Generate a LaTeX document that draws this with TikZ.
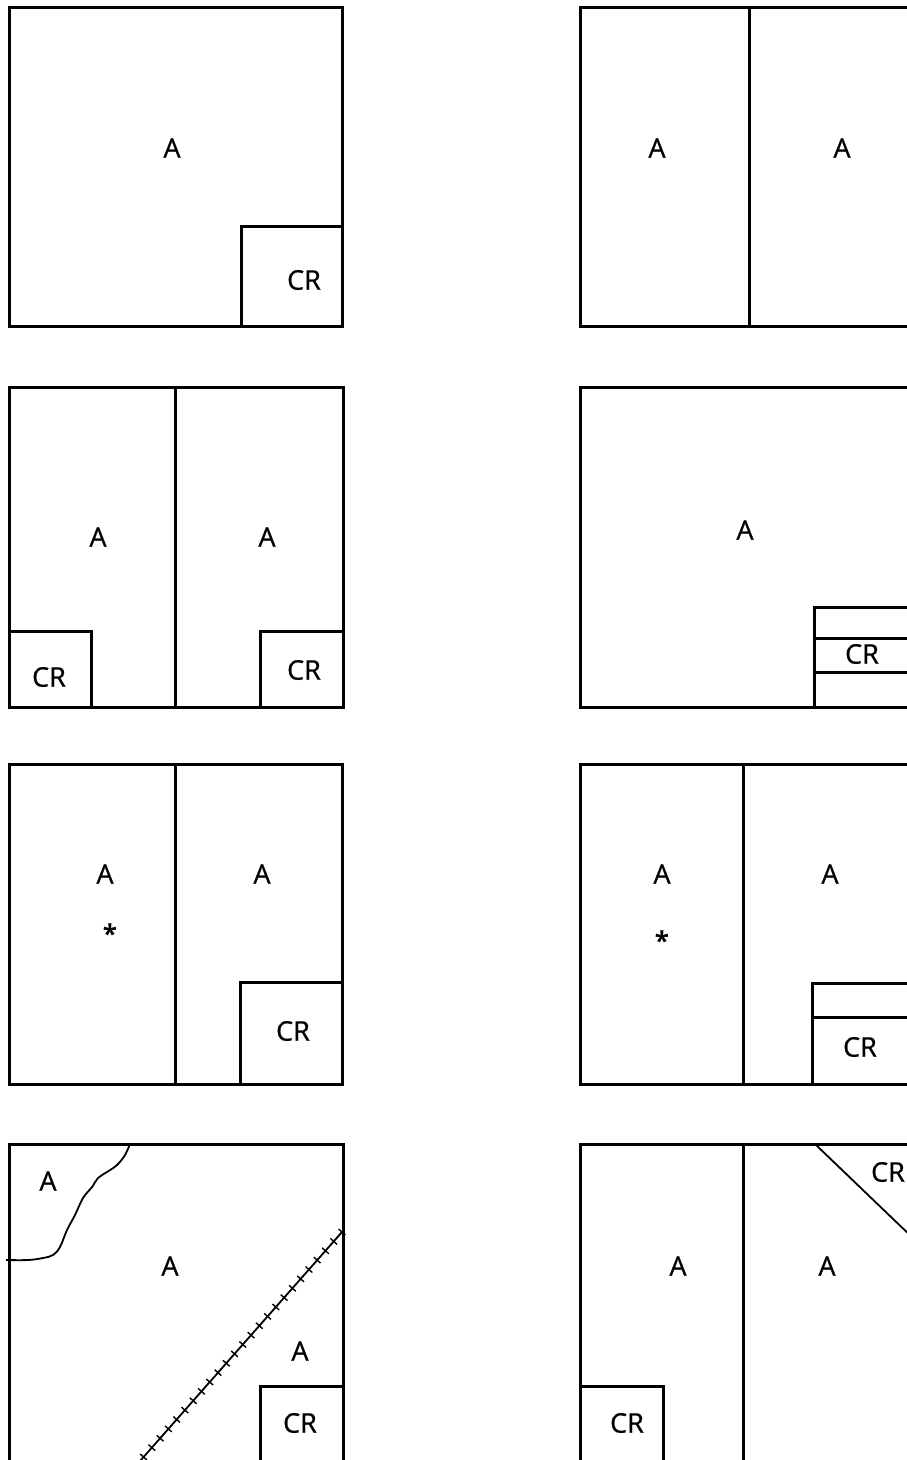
\documentclass[tikz,border=0pt]{standalone}
\usepackage{fontspec}
\setmainfont{Open Sans}
\newfontfamily\lblfont{Open Sans}[FakeBold=0.8]
\usetikzlibrary{decorations.markings}
\begin{document}
\begin{tikzpicture}[x=1pt,y=-1pt,
  wall/.style={line width=3pt, line join=miter},
  thinline/.style={line width=1.8pt},
  lbl/.style={font=\lblfont\fontsize{27}{30}\selectfont, inner sep=0pt},
  starlbl/.style={font=\bfseries\fontsize{26}{30}\selectfont, inner sep=0pt},
  ticked/.style={thinline, postaction={decorate}, decoration={markings,
     mark=between positions 0 and 1 step 12.5pt with {\draw[line width=1.4pt] (0,-4.5pt) -- (0,4.5pt);}}}]
\clip (0,0) rectangle (907,1460);
\fill[white] (0,0) rectangle (907,1460);
% ---------- Row 1 left
\draw[wall] (9,7) rectangle (342,326);
\draw[wall] (241,326) |- (342,226);
\node[lbl] (a1) at (172,148) {A};
\node[lbl] (cr1) at (304,280) {CR};
% ---------- Row 1 right
\draw[wall] (580,7) rectangle (940,326);
\draw[wall] (749,7) -- (749,326);
\node[lbl] (a2) at (657,148) {A};
\node[lbl] (a3) at (842,148) {A};
% ---------- Row 2 left
\draw[wall] (9,387) rectangle (343,707);
\draw[wall] (175,387) -- (175,707);
\draw[wall] (9,631) -| (91,707);
\draw[wall] (260,707) |- (343,631);
\node[lbl] (a4) at (98,537) {A};
\node[lbl] (a5) at (267,537) {A};
\node[lbl] (cr2) at (49,677) {CR};
\node[lbl] (cr3) at (304,670) {CR};
% ---------- Row 2 right
\draw[wall] (580,387) rectangle (940,707);
\draw[wall] (814,707) |- (940,607);
\draw[wall] (814,638) -- (940,638);
\draw[wall] (814,672) -- (940,672);
\node[lbl] (a6) at (745,530) {A};
\node[lbl] (cr4) at (862,654) {CR};
% ---------- Row 3 left
\draw[wall] (9,764) rectangle (342,1084);
\draw[wall] (175,764) -- (175,1084);
\draw[wall] (240,1084) |- (342,982);
\node[lbl] (a7) at (105,874) {A};
\node[lbl] (a8) at (262,874) {A};
\node[starlbl] (s1) at (110,934) {*};
\node[lbl] (cr5) at (293,1031) {CR};
% ---------- Row 3 right
\draw[wall] (580,764) rectangle (940,1084);
\draw[wall] (743,764) -- (743,1084);
\draw[wall] (812,1084) |- (940,983);
\draw[wall] (812,1017) -- (940,1017);
\node[lbl] (a9) at (662,874) {A};
\node[lbl] (a10) at (830,874) {A};
\node[starlbl] (s2) at (662,941) {*};
\node[lbl] (cr6) at (860,1047) {CR};
% ---------- Row 4 left
\draw[wall] (9,1144) rectangle (343,1520);
\draw[wall] (260,1520) |- (343,1386);
\draw[thinline] plot[smooth, tension=0.6] coordinates {(130,1144) (125,1155) (117,1165) (107,1172) (98,1178) (92,1187) (83,1198) (75,1215) (67,1230) (60,1247) (53,1255) (43,1258) (28,1260) (6,1260)};
\coordinate (d1) at (342,1232);
\coordinate (d2) at (88,1520);
\draw[ticked] (d1) -- (d2);
\node[lbl] (a11) at (48,1181) {A};
\node[lbl] (a12) at (170,1266) {A};
\node[lbl] (a13) at (300,1351) {A};
\node[lbl] (cr7) at (300,1423) {CR};
% ---------- Row 4 right
\draw[wall] (580,1144) rectangle (940,1520);
\draw[wall] (743,1144) -- (743,1520);
\draw[wall] (580,1386) -| (663,1520);
\coordinate (d3) at (815,1144);
\coordinate (d4) at (940,1264);
\draw[thinline] (d3) -- (d4);
\node[lbl] (a14) at (678,1266) {A};
\node[lbl] (a15) at (827,1266) {A};
\node[lbl] (cr8) at (888,1172) {CR};
\node[lbl] (cr9) at (627,1423) {CR};
\end{tikzpicture}
\end{document}
